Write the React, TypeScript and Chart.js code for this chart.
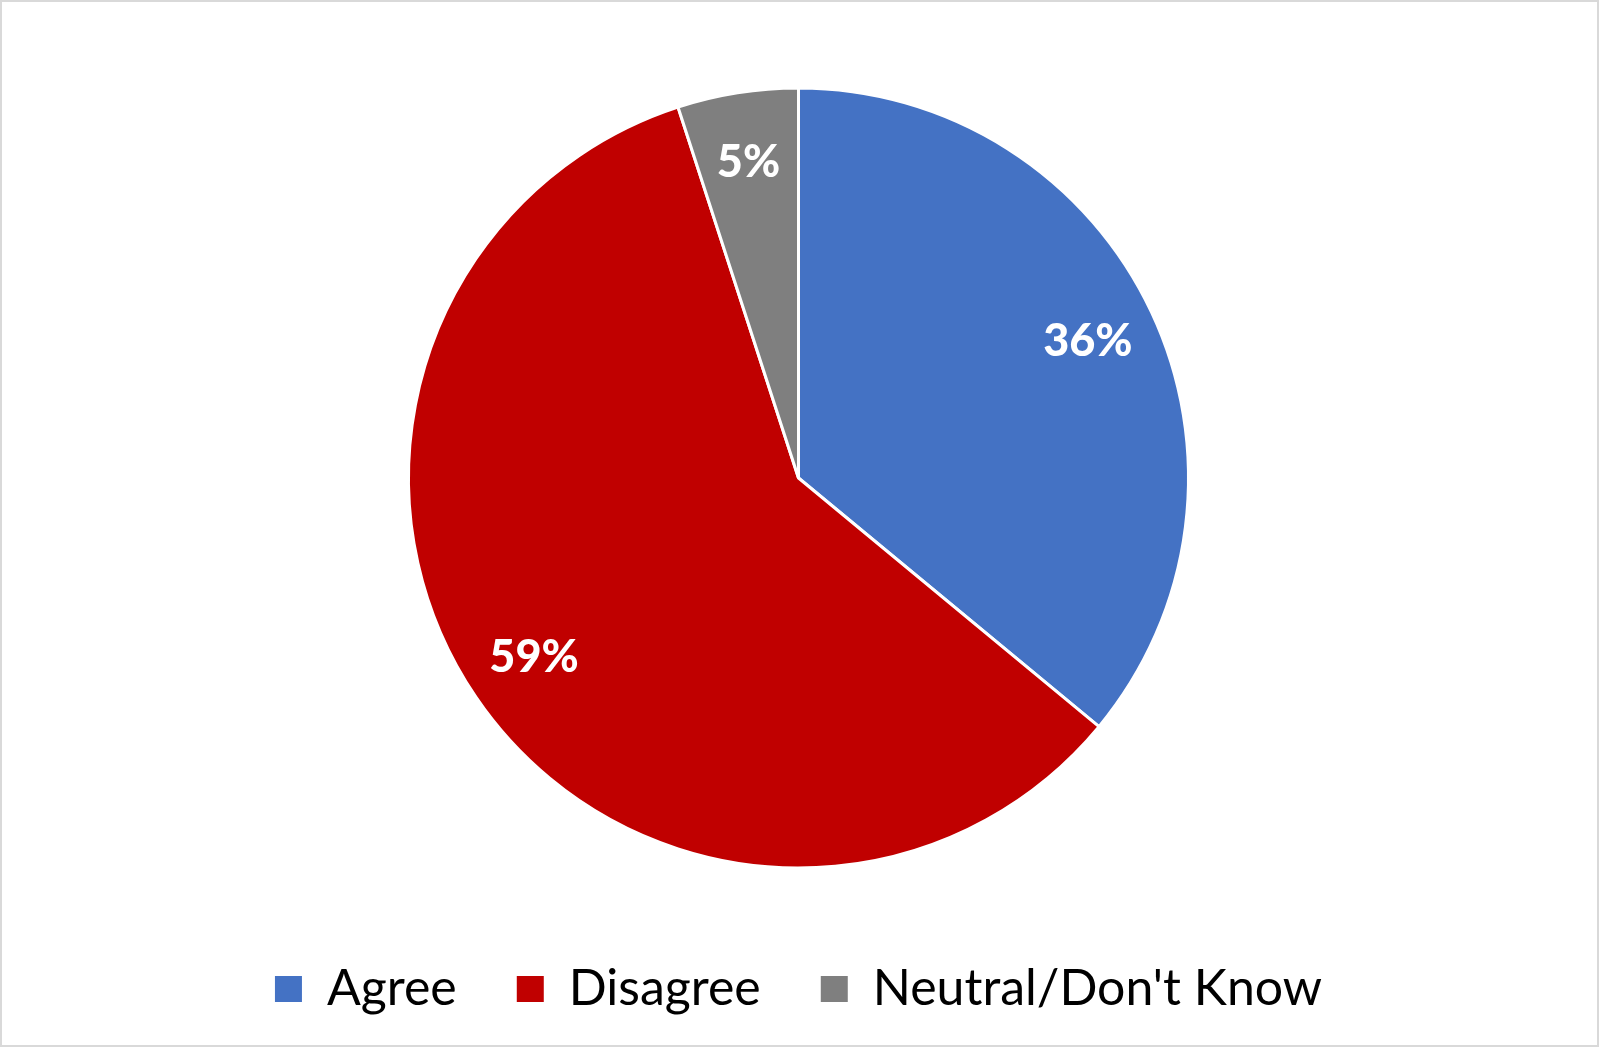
import React, { useEffect, useRef } from "react";
import { Chart, registerables } from "chart.js";

Chart.register(...registerables);

const categories = ["Agree", "Disagree", "Neutral/Don't Know"];
const shares = [36, 59, 5];
const sliceColors = ["#4472C4", "#C00000", "#7F7F7F"];

const labelPlugin = {
  id: "sliceLabels",
  afterDatasetsDraw(chart: any) {
    const ctx = chart.ctx;
    const meta = chart.getDatasetMeta(0);
    ctx.save();
    ctx.font = "900 45px Lato, 'Open Sans', sans-serif";
    ctx.fillStyle = "#FFFFFF";
    ctx.textAlign = "center";
    ctx.textBaseline = "middle";
    meta.data.forEach((arc: any, i: number) => {
      const p = arc.getProps(["x", "y", "startAngle", "endAngle", "outerRadius"], true);
      const mid = (p.startAngle + p.endAngle) / 2;
      const r = p.outerRadius * 0.82;
      ctx.fillText(shares[i] + "%", p.x + Math.cos(mid) * r, p.y + Math.sin(mid) * r);
    });
    ctx.restore();
  },
};

export default function App() {
  const ref = useRef<HTMLCanvasElement | null>(null);
  useEffect(() => {
    if (!ref.current) return;
    const chart = new Chart(ref.current, {
      type: "pie",
      data: {
        labels: categories,
        datasets: [
          {
            data: shares,
            backgroundColor: sliceColors,
            borderColor: "#FFFFFF",
            borderWidth: 3,
            hoverOffset: 0,
          },
        ],
      },
      options: {
        animation: false,
        responsive: true,
        maintainAspectRatio: false,
        radius: 390,
        layout: { padding: { top: 50, bottom: 21, left: 0, right: 2 } },
        plugins: {
          tooltip: { enabled: false },
          legend: {
            position: "bottom",
            labels: {
              boxWidth: 27,
              boxHeight: 26,
              padding: 60,
              color: "#000000",
              font: { family: "Lato, 'Open Sans', sans-serif", size: 50 },
              generateLabels(chart: any) {
                const items = Chart.overrides.pie.plugins.legend.labels.generateLabels(chart);
                return items.map((it: any) => ({ ...it, lineWidth: 0, strokeStyle: "rgba(0,0,0,0)" }));
              },
            },
          },
        },
      },
      plugins: [labelPlugin],
    });
    return () => chart.destroy();
  }, []);
  return (
    <div
      style={{
        position: "fixed",
        left: 0,
        top: 0,
        width: 1599,
        height: 1047,
        boxSizing: "border-box",
        border: "2px solid #D9D9D9",
        background: "#FFFFFF",
      }}
    >
      <canvas ref={ref} style={{ display: "block", width: "100%", height: "100%" }} />
    </div>
  );
}
